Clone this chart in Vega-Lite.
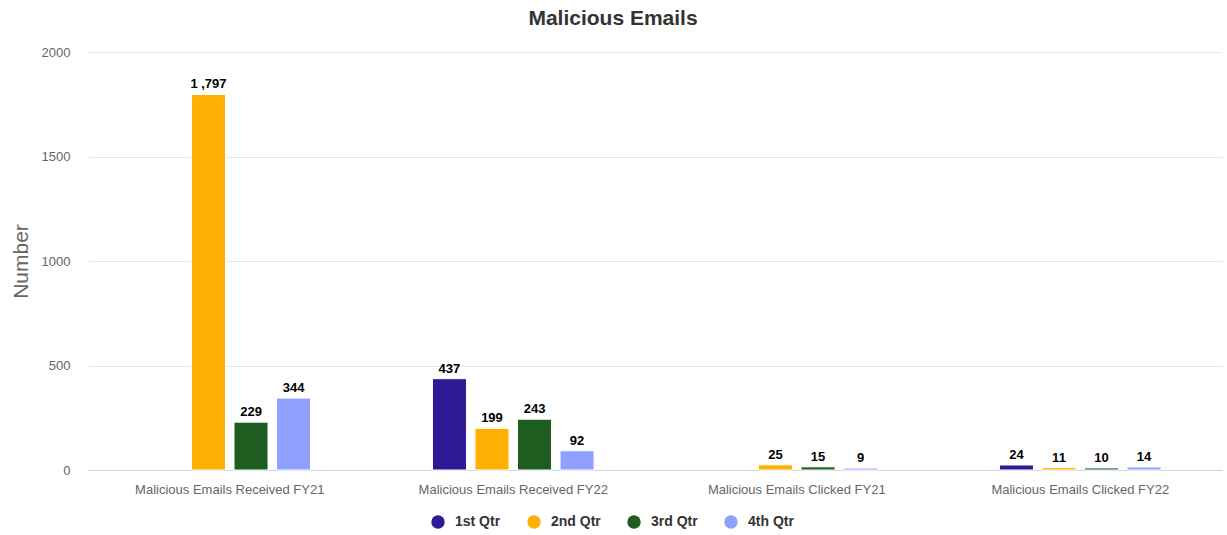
{
  "$schema": "https://vega.github.io/schema/vega-lite/v6.json",
  "width": 1134,
  "height": 418,
  "autosize": "none",
  "padding": {"left": 88, "top": 52, "right": 5, "bottom": 65},
  "background": "white",
  "title": {"text": "Malicious Emails", "fontSize": 21, "fontWeight": "bold", "color": "#333333", "font": "Liberation Sans", "anchor": "middle", "offset": 17, "dx": -42},
  "data": {"values": [
    {"cat": "Malicious Emails Received FY21", "qtr": "2nd Qtr", "value": 1797, "label": "1 ,797"},
    {"cat": "Malicious Emails Received FY21", "qtr": "3rd Qtr", "value": 229, "label": "229"},
    {"cat": "Malicious Emails Received FY21", "qtr": "4th Qtr", "value": 344, "label": "344"},
    {"cat": "Malicious Emails Received FY22", "qtr": "1st Qtr", "value": 437, "label": "437"},
    {"cat": "Malicious Emails Received FY22", "qtr": "2nd Qtr", "value": 199, "label": "199"},
    {"cat": "Malicious Emails Received FY22", "qtr": "3rd Qtr", "value": 243, "label": "243"},
    {"cat": "Malicious Emails Received FY22", "qtr": "4th Qtr", "value": 92, "label": "92"},
    {"cat": "Malicious Emails Clicked FY21", "qtr": "2nd Qtr", "value": 25, "label": "25"},
    {"cat": "Malicious Emails Clicked FY21", "qtr": "3rd Qtr", "value": 15, "label": "15"},
    {"cat": "Malicious Emails Clicked FY21", "qtr": "4th Qtr", "value": 9, "label": "9"},
    {"cat": "Malicious Emails Clicked FY22", "qtr": "1st Qtr", "value": 24, "label": "24"},
    {"cat": "Malicious Emails Clicked FY22", "qtr": "2nd Qtr", "value": 11, "label": "11"},
    {"cat": "Malicious Emails Clicked FY22", "qtr": "3rd Qtr", "value": 10, "label": "10"},
    {"cat": "Malicious Emails Clicked FY22", "qtr": "4th Qtr", "value": 14, "label": "14"}
  ]},
  "encoding": {
    "x": {"field": "cat", "type": "nominal", "sort": null,
      "scale": {"paddingInner": 0.4, "paddingOuter": 0.2},
      "axis": {"title": null, "labelAngle": 0, "labelColor": "#666666", "labelFontSize": 13, "labelFont": "Liberation Sans", "labelLimit": 0, "ticks": false, "domainColor": "#ccd6eb", "domainWidth": 1, "labelPadding": 13}},
    "xOffset": {"field": "qtr", "type": "nominal", "sort": ["1st Qtr", "2nd Qtr", "3rd Qtr", "4th Qtr"],
      "scale": {"domain": ["1st Qtr", "2nd Qtr", "3rd Qtr", "4th Qtr"], "paddingInner": 0.2, "paddingOuter": 0.1}},
    "y": {"field": "value", "type": "quantitative",
      "scale": {"domain": [0, 2000], "nice": false},
      "axis": {"title": "Number", "titleFontSize": 21, "titleFontWeight": "normal", "titleColor": "#666666", "titleFont": "Liberation Sans", "titlePadding": 10,
        "values": [0, 500, 1000, 1500, 2000], "format": "d", "labelColor": "#666666", "labelFontSize": 13, "labelFont": "Liberation Sans", "labelPadding": 18,
        "ticks": false, "domain": false, "gridColor": "#e6e6e6", "gridWidth": 1}}
  },
  "layer": [
    {"mark": {"type": "bar", "stroke": "white", "strokeWidth": 1},
      "encoding": {
        "color": {"field": "qtr", "type": "nominal",
          "scale": {"domain": ["1st Qtr", "2nd Qtr", "3rd Qtr", "4th Qtr"], "range": ["#2e1a94", "#ffb000", "#1d5e20", "#8fa0ff"]},
          "legend": {"title": null, "orient": "none", "legendX": 343, "legendY": 463, "direction": "horizontal", "symbolType": "circle", "symbolSize": 180, "symbolStrokeWidth": 0,
            "labelFontWeight": "bold", "labelFontSize": 14, "labelColor": "#333333", "labelFont": "Liberation Sans", "columnPadding": 26, "labelOffset": 10}}
      }},
    {"mark": {"type": "text", "baseline": "bottom", "dy": -3, "fontSize": 13, "fontWeight": "bold", "font": "Liberation Sans", "color": "#000000"},
      "encoding": {"text": {"field": "label", "type": "nominal"}}}
  ],
  "config": {"view": {"stroke": null}}
}
